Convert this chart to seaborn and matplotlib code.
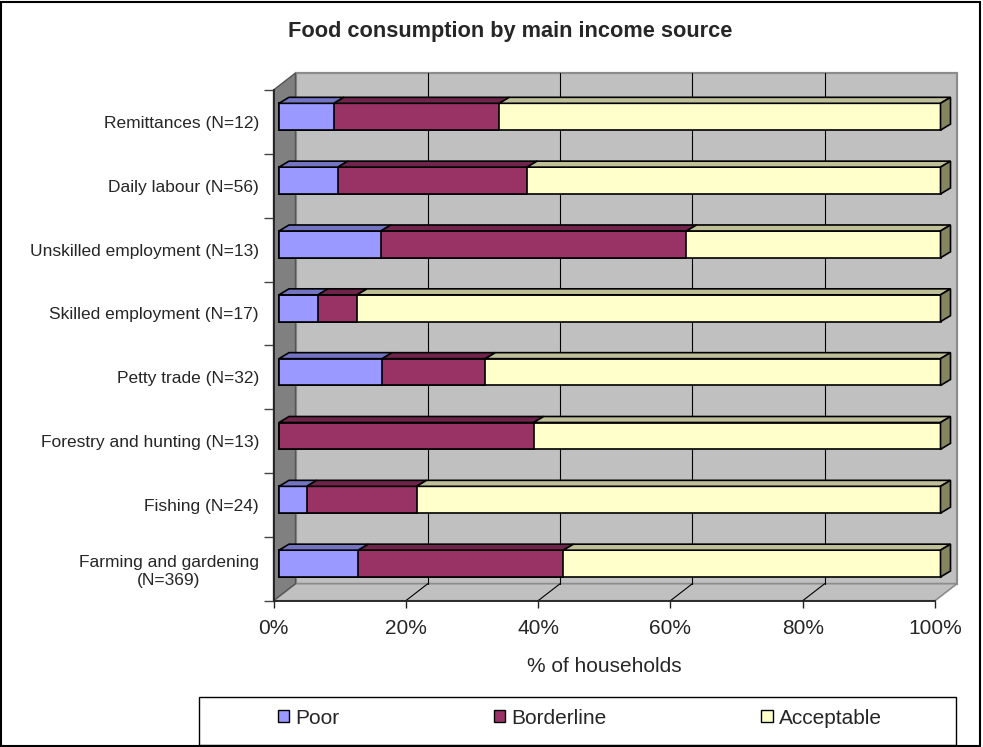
import numpy as np
import pandas as pd
import matplotlib
matplotlib.use("Agg")
import matplotlib.pyplot as plt
import seaborn as sns
from matplotlib.patches import Polygon, Rectangle, Patch
from matplotlib.lines import Line2D
from matplotlib.transforms import ScaledTranslation, IdentityTransform

# ---- data (percent of households) ----
categories = [
    "Remittances (N=12)",
    "Daily labour (N=56)",
    "Unskilled employment (N=13)",
    "Skilled employment (N=17)",
    "Petty trade (N=32)",
    "Forestry and hunting (N=13)",
    "Fishing (N=24)",
    "Farming and gardening\n(N=369)",
]
poor = [8.3, 8.9, 15.4, 5.9, 15.6, 0.0, 4.2, 12.0]
borderline = [25.0, 28.6, 46.2, 5.9, 15.6, 38.5, 16.6, 31.0]
acceptable = [66.7, 62.5, 38.4, 88.2, 68.8, 61.5, 79.2, 57.0]
series = ["Poor", "Borderline", "Acceptable"]
xticks = [0, 20, 40, 60, 80, 100]
xticklabels = ["0%", "20%", "40%", "60%", "80%", "100%"]

# ---- styling ----
face = {"Poor": "#9999FF", "Borderline": "#993366", "Acceptable": "#FFFFCC"}
top_face = {"Poor": "#7474C4", "Borderline": "#70244B", "Acceptable": "#BFBF98"}
side_face = "#858560"
wall = "#C0C0C0"
side_wall = "#808080"

sns.set_theme(style="white")
plt.rcParams["font.family"] = ["Liberation Sans", "DejaVu Sans"]

W, H = 983, 747
fig = plt.figure(figsize=(W / 100, H / 100), dpi=100)
fig.patch.set_facecolor("white")


def rect_px(x0, y0, x1, y1):
    """Pixel box measured from the top-left corner -> figure fraction."""
    return [x0 / W, 1 - y1 / H, (x1 - x0) / W, (y1 - y0) / H]


# front plane of the chart
ax = fig.add_axes(rect_px(273.5, 90, 935, 600.7))
ax.patch.set_alpha(0)

df = pd.DataFrame({"source": categories, "Poor": poor,
                   "Borderline": borderline, "Acceptable": acceptable})
df["end_Poor"] = df["Poor"]
df["end_Borderline"] = df["Poor"] + df["Borderline"]
df["end_Acceptable"] = df["end_Borderline"] + df["Acceptable"]

BAR_W = 0.42
for s in reversed(series):
    sns.barplot(data=df, y="source", x="end_" + s, order=categories, orient="h",
                color=face[s], saturation=1, width=BAR_W, errorbar=None,
                edgecolor="black", linewidth=1.2, ax=ax, zorder=3)

ax.set_xlim(0, 100)
ax.set_ylim(len(categories) - 0.5, -0.5)

# bars sit a little behind the front plane
BAR_OFF = (5.5, 5.2)      # px, display (y up)
DEPTH_BAR = (10.0, 6.0)   # thickness of the bars
DEPTH = (22.0, 17.0)      # depth of the walls
off = ScaledTranslation(BAR_OFF[0] / 100, BAR_OFF[1] / 100, fig.dpi_scale_trans)
for p in ax.patches:
    p.set_transform(ax.transData + off)
    p.set_clip_on(False)


def px(x, y, shift=(0, 0)):
    d = ax.transData.transform((x, y))
    return (d[0] + shift[0], d[1] + shift[1])


def poly(points, fc, ec, lw, z):
    pg = Polygon(points, closed=True, facecolor=fc, edgecolor=ec, linewidth=lw,
                 transform=IdentityTransform(), clip_on=False, zorder=z)
    ax.add_patch(pg)


n = len(categories)
# walls and floor
FLt, FLb = px(0, -0.5), px(0, n - 0.5)
FRt, FRb = px(100, -0.5), px(100, n - 0.5)
sh = lambda p, d=DEPTH: (p[0] + d[0], p[1] + d[1])
poly([sh(FLb), sh(FRb), sh(FRt), sh(FLt)], wall, "#8C8C8C", 1.6, 0.2)
poly([FLb, FRb, sh(FRb), sh(FLb)], wall, "#8C8C8C", 1.2, 0.3)
poly([FLt, sh(FLt), sh(FLb), FLb], side_wall, "#555555", 1.0, 0.4)

for xv in xticks[1:-1]:
    ax.add_line(Line2D([sh(px(xv, n - 0.5))[0], sh(px(xv, -0.5))[0]],
                       [sh(px(xv, n - 0.5))[1], sh(px(xv, -0.5))[1]],
                       color="black", lw=0.8, transform=IdentityTransform(),
                       clip_on=False, zorder=0.5))
    ax.add_line(Line2D([px(xv, n - 0.5)[0], sh(px(xv, n - 0.5))[0]],
                       [px(xv, n - 0.5)[1], sh(px(xv, n - 0.5))[1]],
                       color="black", lw=0.8, transform=IdentityTransform(),
                       clip_on=False, zorder=0.5))

# 3-D faces of the bars
for i in range(n):
    ytop = i - BAR_W / 2
    ybot = i + BAR_W / 2
    start = 0.0
    for s in series:
        end = start + df.loc[i, s]
        if df.loc[i, s] > 0:
            a = px(start, ytop, BAR_OFF)
            b = px(end, ytop, BAR_OFF)
            poly([a, b, sh(b, DEPTH_BAR), sh(a, DEPTH_BAR)], top_face[s], "black", 1.2, 3.5)
        start = end
    a = px(start, ytop, BAR_OFF)
    b = px(start, ybot, BAR_OFF)
    poly([a, b, sh(b, DEPTH_BAR), sh(a, DEPTH_BAR)], side_face, "black", 1.2, 3.5)

# axes, ticks and labels
for side in ["top", "right"]:
    ax.spines[side].set_visible(False)
for side in ["left", "bottom"]:
    ax.spines[side].set_color("#222222")
    ax.spines[side].set_linewidth(1.3)
    ax.spines[side].set_zorder(4)

ax.set_xticks(xticks, labels=xticklabels)
ax.tick_params(axis="x", direction="out", length=5, width=1, color="#222222",
               labelsize=15, pad=8, bottom=True)
ax.set_yticks(np.arange(-0.5, n, 1), labels=[""] * (n + 1))
ax.set_yticks(np.arange(n), labels=categories, minor=True)
ax.tick_params(axis="y", which="major", direction="out", length=7.2, width=1,
               color="#444444", left=True)
ax.tick_params(axis="y", which="minor", length=0, labelsize=12.5, pad=10.5)
for lab in ax.get_yticklabels(minor=True):
    lab.set_multialignment("center")
ax.set_ylabel("")
ax.set_xlabel("% of households", fontsize=15, labelpad=14)

fig.text(510 / W, 1 - 32 / H, "Food consumption by main income source",
         ha="center", va="center", fontsize=15.7, fontweight="bold")

# legend
handles = [Patch(facecolor=face[s], edgecolor="black", linewidth=1.0) for s in series]
fig.legend(handles, series, ncol=3, frameon=False, loc="center left",
           bbox_to_anchor=(278 / W, 1 - 718 / H), borderpad=0, borderaxespad=0,
           fontsize=15, handlelength=0.55, handleheight=0.55, handletextpad=0.3,
           columnspacing=7.4)
fig.add_artist(Rectangle((199, H - 745), 956 - 199, 745 - 696.5, fill=False,
                         edgecolor="black", linewidth=1.0,
                         transform=IdentityTransform()))

# outer border
fig.add_artist(Rectangle((1.0, 1.5), W - 4.0, H - 3.0, fill=False,
                         edgecolor="black", linewidth=1.5,
                         transform=IdentityTransform()))

fig.savefig("out.png", dpi=100, facecolor="white")
